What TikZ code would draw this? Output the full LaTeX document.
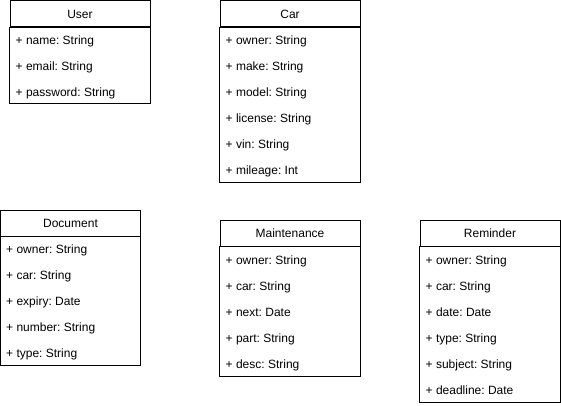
\documentclass[tikz,border=0pt]{standalone}
\usepackage{fontspec}
\setmainfont{Liberation Sans}
\usepackage{tikz}
\frenchspacing

\tikzset{
	head/.style = {draw, line width = 1pt, minimum width = 140pt, minimum height = 26pt, inner sep = 0pt},
	body/.style = {draw, line width = 1pt},
	attr/.style = {anchor = base west, inner sep = 0pt}
}

\begin{document}
\begin{tikzpicture}[x = 1pt, y = -1pt, font = \fontsize{12}{14}\selectfont]
	
		\useasboundingbox (0, 0) rectangle (561, 406);
		
		% User
		\node[head] (user) at (80, 14) {User};
		\draw[body] (user.south west) rectangle (150, 104);
		\node[attr] (user-1) at (15.5, 44.3) {+ name: String};
		\node[attr] (user-2) at (15.5, 70.3) {+ email: String};
		\node[attr] (user-3) at (15.5, 96.3) {+ password: String};
		
		% Car
		\node[head] (car) at (290, 14) {Car};
		\draw[body] (car.south west) rectangle (360, 182);
		\node[attr] (car-1) at (225.5, 44.3) {+ owner: String};
		\node[attr] (car-2) at (225.5, 70.3) {+ make: String};
		\node[attr] (car-3) at (225.5, 96.3) {+ model: String};
		\node[attr] (car-4) at (225.5, 122.3) {+ license: String};
		\node[attr] (car-5) at (225.5, 148.3) {+ vin: String};
		\node[attr] (car-6) at (225.5, 174.3) {+ mileage: Int};
		
		% Document
		\node[head] (document) at (70.5, 223) {Document};
		\draw[body] (document.south west) rectangle (140.5, 365);
		\node[attr] (document-1) at (6, 253.3) {+ owner: String};
		\node[attr] (document-2) at (6, 279.3) {+ car: String};
		\node[attr] (document-3) at (6, 305.3) {+ expiry: Date};
		\node[attr] (document-4) at (6, 331.3) {+ number: String};
		\node[attr] (document-5) at (6, 357.3) {+ type: String};
		
		% Maintenance
		\node[head] (maintenance) at (290, 233) {Maintenance};
		\draw[body] (maintenance.south west) rectangle (360, 376);
		\node[attr] (maintenance-1) at (225.5, 264.3) {+ owner: String};
		\node[attr] (maintenance-2) at (225.5, 290.3) {+ car: String};
		\node[attr] (maintenance-3) at (225.5, 316.3) {+ next: Date};
		\node[attr] (maintenance-4) at (225.5, 342.3) {+ part: String};
		\node[attr] (maintenance-5) at (225.5, 368.3) {+ desc: String};
		
		% Reminder
		\node[head] (reminder) at (490, 233) {Reminder};
		\draw[body] (reminder.south west) rectangle (560, 402);
		\node[attr] (reminder-1) at (425.5, 264.3) {+ owner: String};
		\node[attr] (reminder-2) at (425.5, 290.3) {+ car: String};
		\node[attr] (reminder-3) at (425.5, 316.3) {+ date: Date};
		\node[attr] (reminder-4) at (425.5, 342.3) {+ type: String};
		\node[attr] (reminder-5) at (425.5, 368.3) {+ subject: String};
		\node[attr] (reminder-6) at (425.5, 394.3) {+ deadline: Date};
		
	\end{tikzpicture}
\end{document}
